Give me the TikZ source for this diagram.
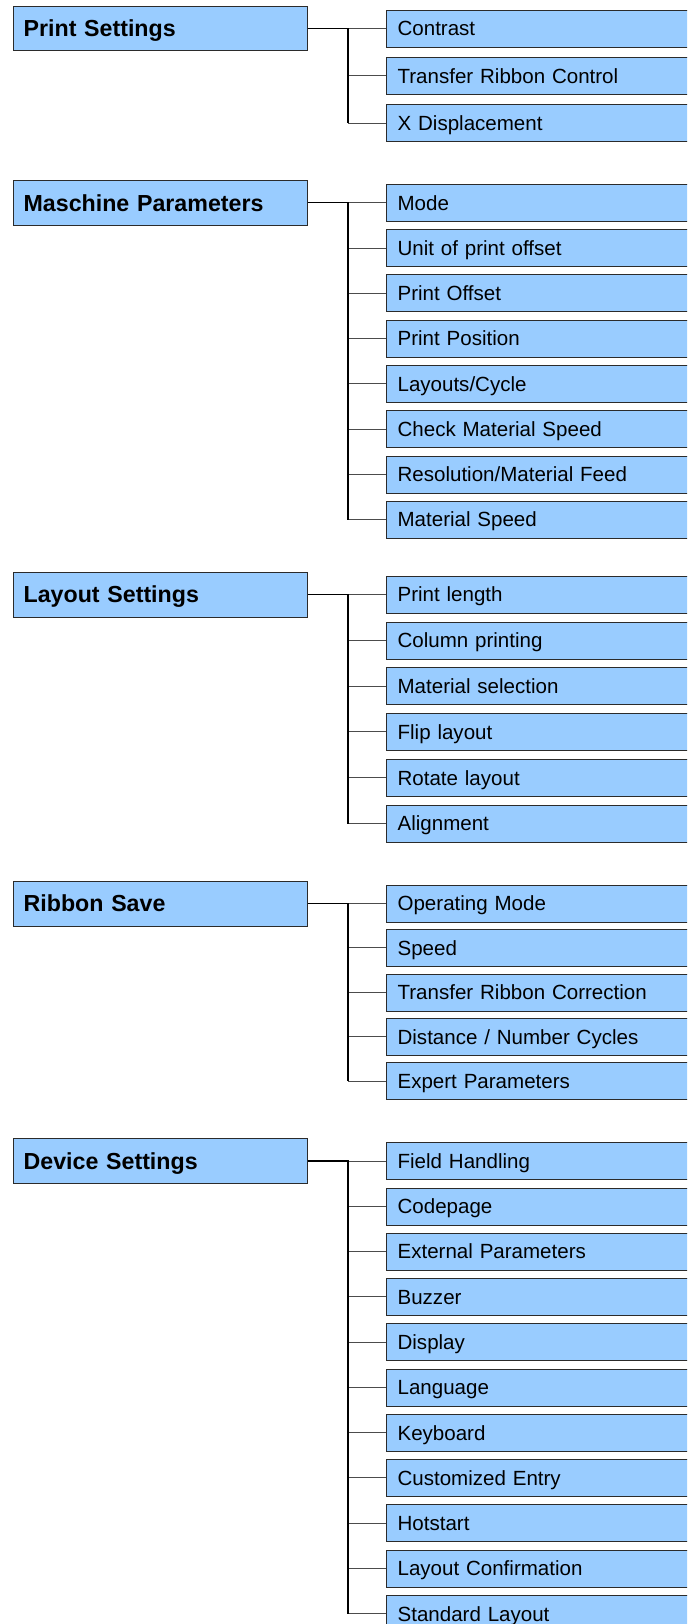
\documentclass[tikz,border=0pt]{standalone}
\usepackage{fontspec}
\setmainfont{Liberation Sans}
\usetikzlibrary{positioning}
\definecolor{MenuBlue}{HTML}{99CCFF}
\definecolor{FrameGray}{HTML}{2B2B2B}

\begin{document}
\begin{tikzpicture}[x=0.75pt,y=-0.75pt,node distance=5.8pt,
    topic/.style={draw=FrameGray,fill=MenuBlue,anchor=west,minimum height=33.4pt,
      text width=204.7pt,inner xsep=8pt,align=left,text height=12.5pt,text depth=0pt,
      font=\fontsize{17.4}{20}\selectfont\bfseries},
    item/.style={draw=FrameGray,fill=MenuBlue,minimum height=27.75pt,
      text width=225pt,inner xsep=8.5pt,align=left,text height=11.1pt,text depth=0pt,
      font=\fontsize{15.4}{18}\selectfont},
    trunk/.style={line width=1.1pt},
    branch/.style={line width=0.65pt,draw=black!70}]
  \useasboundingbox (0,0) rectangle (687,1624);
  \clip (0,0) rectangle (687,1624);

  % Print Settings
  \node[topic] (print) at (12.7,28.3) {Print Settings};
  \coordinate[right=30.5pt of print.east] (print-t);
  \foreach \txt [count=\i, remember=\i as \j (initially 0)] in
      {Contrast,Transfer Ribbon Control,X Displacement} {
    \ifnum\i=1 \node[item,anchor=west] (print-\i) at (386,28.3) {\txt};
    \else \node[item,below=7.4pt of print-\j] (print-\i) {\txt}; \fi
    \draw[branch] (print-t |- print-\i.west) -- (print-\i.west);
  }
  \draw[trunk] (print.east) -- (print-t) -- (print-t |- print-3.west);

  % Maschine Parameters
  \node[topic] (machine) at (12.7,202.7) {Maschine Parameters};
  \coordinate[right=30.5pt of machine.east] (machine-t);
  \foreach \txt [count=\i, remember=\i as \j (initially 0)] in
      {Mode,Unit of print offset,Print Offset,Print Position,Layouts/Cycle,
       Check Material Speed,Resolution/Material Feed,Material Speed} {
    \ifnum\i=1 \node[item,anchor=west] (machine-\i) at (386,202.7) {\txt};
    \else \node[item,below=of machine-\j] (machine-\i) {\txt}; \fi
    \draw[branch] (machine-t |- machine-\i.west) -- (machine-\i.west);
  }
  \draw[trunk] (machine.east) -- (machine-t) -- (machine-t |- machine-8.west);

  % Layout Settings
  \node[topic] (layout) at (12.7,594.5) {Layout Settings};
  \coordinate[right=30.5pt of layout.east] (layout-t);
  \foreach \txt [count=\i, remember=\i as \j (initially 0)] in
      {Print length,Column printing,Material selection,Flip layout,
       Rotate layout,Alignment} {
    \ifnum\i=1 \node[item,anchor=west] (layout-\i) at (386,594.5) {\txt};
    \else \node[item,below=6.2pt of layout-\j] (layout-\i) {\txt}; \fi
    \draw[branch] (layout-t |- layout-\i.west) -- (layout-\i.west);
  }
  \draw[trunk] (layout.east) -- (layout-t) -- (layout-t |- layout-6.west);

  % Ribbon Save
  \node[topic] (ribbon) at (12.7,903.5) {Ribbon Save};
  \coordinate[right=30.5pt of ribbon.east] (ribbon-t);
  \foreach \txt [count=\i, remember=\i as \j (initially 0)] in
      {Operating Mode,Speed,Transfer Ribbon Correction,
       Distance / Number Cycles,Expert Parameters} {
    \ifnum\i=1 \node[item,anchor=west] (ribbon-\i) at (386,903.5) {\txt};
    \else \node[item,below=5.15pt of ribbon-\j] (ribbon-\i) {\txt}; \fi
    \draw[branch] (ribbon-t |- ribbon-\i.west) -- (ribbon-\i.west);
  }
  \draw[trunk] (ribbon.east) -- (ribbon-t) -- (ribbon-t |- ribbon-5.west);

  % Device Settings
  \node[topic] (device) at (12.7,1161) {Device Settings};
  \coordinate[right=30.5pt of device.east] (device-t);
  \foreach \txt [count=\i, remember=\i as \j (initially 0)] in
      {Field Handling,Codepage,External Parameters,Buzzer,Display,Language,
       Keyboard,Customized Entry,Hotstart,Layout Confirmation,Standard Layout} {
    \ifnum\i=1 \node[item,anchor=west] (device-\i) at (386,1161) {\txt};
    \else \node[item,below=of device-\j] (device-\i) {\txt}; \fi
    \draw[branch] (device-t |- device-\i.west) -- (device-\i.west);
  }
  \draw[trunk] (device.east) -- (device-t) -- (device-t |- device-11.west);
\end{tikzpicture}
\end{document}
